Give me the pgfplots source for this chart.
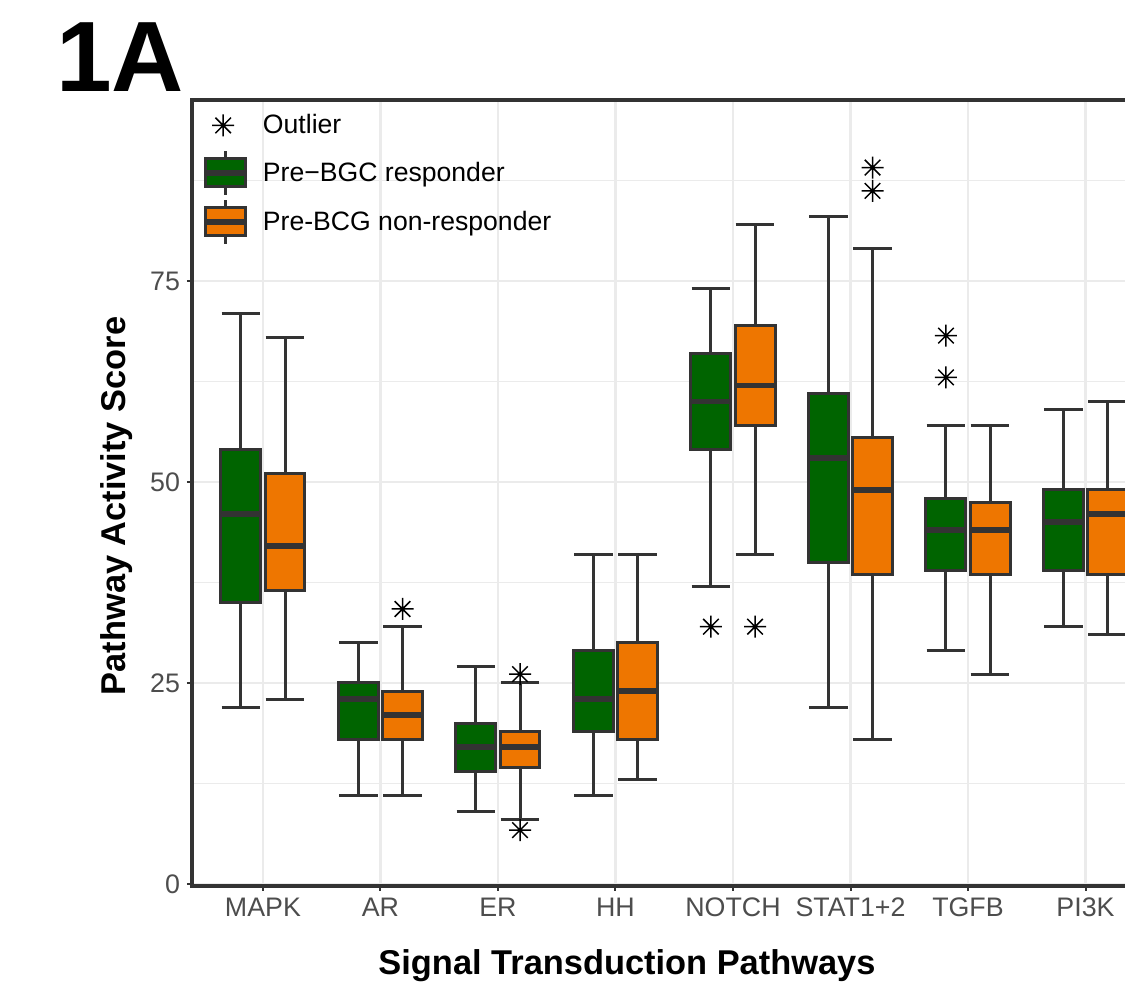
\documentclass[border=0pt]{standalone}
\usepackage{fontspec}
\setmainfont{Liberation Sans}
\usepackage{pgfplots}
\pgfplotsset{compat=1.18}

\definecolor{dk}{HTML}{333333}
\definecolor{grn}{HTML}{006400}
\definecolor{org}{HTML}{EE7600}
\definecolor{gridc}{HTML}{EBEBEB}
\definecolor{tickc}{HTML}{4D4D4D}

% R pch 8: plus and cross on top of each other
\pgfdeclareplotmark{ast8}{%
  \pgfpathmoveto{\pgfqpoint{-\pgfplotmarksize}{0pt}}\pgfpathlineto{\pgfqpoint{\pgfplotmarksize}{0pt}}%
  \pgfpathmoveto{\pgfqpoint{0pt}{-\pgfplotmarksize}}\pgfpathlineto{\pgfqpoint{0pt}{\pgfplotmarksize}}%
  \pgfpathmoveto{\pgfqpoint{-0.7071\pgfplotmarksize}{-0.7071\pgfplotmarksize}}\pgfpathlineto{\pgfqpoint{0.7071\pgfplotmarksize}{0.7071\pgfplotmarksize}}%
  \pgfpathmoveto{\pgfqpoint{-0.7071\pgfplotmarksize}{0.7071\pgfplotmarksize}}\pgfpathlineto{\pgfqpoint{0.7071\pgfplotmarksize}{-0.7071\pgfplotmarksize}}%
  \pgfusepathqstroke}

% position, fill, lower whisker, q1, median, q3, upper whisker
\newcommand{\mybox}[7]{%
  \addplot[forget plot, mark=none, dk, line width=1.5pt, unbounded coords=jump,
    x filter/.expression={x+#1}]
    coordinates {(0,#3) (0,#4) (nan,nan) (0,#6) (0,#7) (nan,nan)
                 (-0.165,#3) (0.165,#3) (nan,nan) (-0.165,#7) (0.165,#7)};
  \addplot[forget plot, mark=none, draw=dk, fill=#2, line width=1.5pt,
    x filter/.expression={x+#1}]
    coordinates {(-0.17,#4) (0.17,#4) (0.17,#6) (-0.17,#6)} --cycle;
  \addplot[forget plot, mark=none, dk, line width=2.8pt,
    x filter/.expression={x+#1}]
    coordinates {(-0.17,#5) (0.17,#5)};}

\begin{document}
\begin{tikzpicture}
\begin{axis}[
  at={(0,0)}, anchor=south west,
  scale only axis, width=466.5pt, height=393pt,
  xmin=-0.604, xmax=7.336, ymin=-0.25, ymax=97.5,
  axis x line*=box, axis y line*=left,
  axis line style={line width=2pt, draw=dk, line cap=rect},
  xtick pos=left, ytick pos=left, tick align=outside,
  major tick length=2.5pt, minor tick length=0pt,
  tick style={line width=1pt, draw=dk},
  xtick={0,...,7},
  xticklabels={MAPK,AR,ER,HH,NOTCH,STAT1+2,TGFB,PI3K},
  ytick={0,25,50,75}, minor ytick={12.5,37.5,62.5,87.5},
  /pgf/number format/assume math mode=true,
  ticklabel style={font=\fontsize{13.4}{16}\selectfont, text=tickc},
  xmajorgrids, ymajorgrids, yminorgrids,
  major grid style={gridc, line width=1.4pt},
  minor grid style={gridc, line width=0.8pt},
  xlabel={Signal Transduction Pathways},
  ylabel={Pathway Activity Score},
  label style={font=\fontsize{17.2}{20}\selectfont\bfseries},
  xlabel style={at={(rel axis cs:0.4662,-0.1132)}, anchor=base},
  ylabel style={at={(rel axis cs:-0.0718,0.4835)}, anchor=base},
  legend style={at={(rel axis cs:0.0107,0.9962)}, anchor=north west,
    draw=none, fill=none, inner sep=0pt, row sep=1pt, column sep=7.5pt,
    font=\fontsize{13.3}{16}\selectfont, nodes={inner sep=0pt}},
  legend cell align=left,
]
\addlegendimage{legend image code/.code={
  \path[draw=none, fill=none] (0pt,-11pt) rectangle (20pt,11pt);
  \draw[black, line width=0.75pt, mark size=5.5pt] plot[only marks, mark=ast8] coordinates {(9pt,0pt)};}}
\addlegendentry{Outlier}
\addlegendimage{legend image code/.code={
  \draw[dk, line width=1.5pt] (10pt,-11pt) -- (10pt,11pt);
  \draw[dk, line width=1.5pt, fill=grn] (0pt,-7pt) rectangle (20pt,7pt);
  \draw[dk, line width=2.8pt] (0pt,0pt) -- (20pt,0pt);}}
\addlegendentry{Pre−BGC responder}
\addlegendimage{legend image code/.code={
  \draw[dk, line width=1.5pt] (10pt,-11pt) -- (10pt,11pt);
  \draw[dk, line width=1.5pt, fill=org] (0pt,-7pt) rectangle (20pt,7pt);
  \draw[dk, line width=2.8pt] (0pt,0pt) -- (20pt,0pt);}}
\addlegendentry{Pre-BCG non-responder}

% MAPK
\mybox{-0.1875}{grn}{22}{35}{46}{54}{71}
\mybox{0.1875}{org}{23}{36.5}{42}{51}{68}
% AR
\mybox{0.8125}{grn}{11}{18}{23}{25}{30}
\mybox{1.1875}{org}{11}{18}{21}{24}{32}
% ER
\mybox{1.8125}{grn}{9}{14}{17}{20}{27}
\mybox{2.1875}{org}{8}{14.5}{17}{19}{25}
% HH
\mybox{2.8125}{grn}{11}{19}{23}{29}{41}
\mybox{3.1875}{org}{13}{18}{24}{30}{41}
% NOTCH
\mybox{3.8125}{grn}{37}{54}{60}{66}{74}
\mybox{4.1875}{org}{41}{57}{62}{69.5}{82}
% STAT1+2
\mybox{4.8125}{grn}{22}{40}{53}{61}{83}
\mybox{5.1875}{org}{18}{38.5}{49}{55.5}{79}
% TGFB
\mybox{5.8125}{grn}{29}{39}{44}{48}{57}
\mybox{6.1875}{org}{26}{38.5}{44}{47.5}{57}
% PI3K
\mybox{6.8125}{grn}{32}{39}{45}{49}{59}
\mybox{7.1875}{org}{31}{38.5}{46}{49}{60}

% outliers
\addplot[forget plot, only marks, mark=ast8, mark size=5.5pt, line width=0.75pt, black]
  coordinates {(1.1875,34.2) (2.1875,26.1) (2.1875,6.7) (3.8125,32) (4.1875,32)
               (5.1875,89.1) (5.1875,86.2) (5.8125,68.2) (5.8125,63.0)};
\end{axis}
\node[anchor=base west, inner sep=0pt, font=\fontsize{50}{50}\selectfont\bfseries] at (-68pt,397pt) {1A};
\pgfresetboundingbox
\useasboundingbox (-96pt,-54.5pt) rectangle (466.5pt,443pt);
\end{tikzpicture}
\end{document}
